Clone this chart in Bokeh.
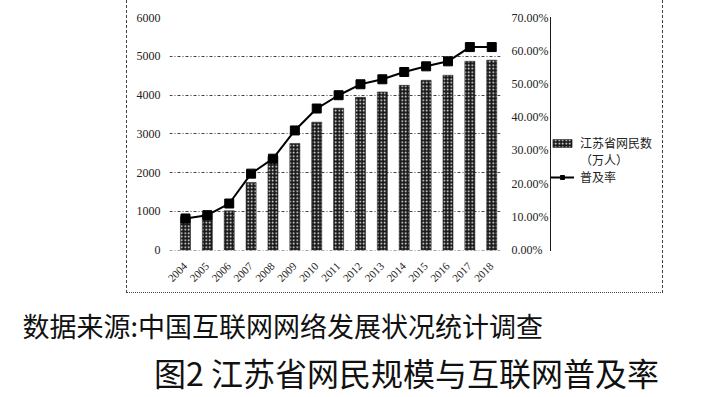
import math
from bokeh.plotting import figure
from bokeh.layouts import column, row
from bokeh.models import (Range1d, LinearAxis, FixedTicker, NumeralTickFormatter,
                          Legend, LegendItem, ColumnDataSource, Spacer)
from bokeh.core.properties import value
from bokeh.embed import file_html
from bokeh.resources import INLINE

years = ["2004", "2005", "2006", "2007", "2008", "2009", "2010", "2011",
         "2012", "2013", "2014", "2015", "2016", "2017", "2018"]
users = [858, 928, 1013, 1745, 2420, 2750, 3300, 3660, 3940, 4080, 4250, 4380, 4510, 4870, 4900]
rate = [0.095, 0.105, 0.140, 0.230, 0.275, 0.360, 0.426, 0.466, 0.499, 0.514,
        0.536, 0.553, 0.568, 0.611, 0.611]
left_ticks = [0, 1000, 2000, 3000, 4000, 5000, 6000]
right_ticks = [0.0, 0.1, 0.2, 0.3, 0.4, 0.5, 0.6, 0.7]
source_text = ["数据来源:中国互联网网络发展状况统计调查"]
title_text = ["图2 江苏省网民规模与互联网普及率"]
legend_users = "江苏省网民数"
legend_users2 = "（万人）"
legend_rate = "普及率"

src = ColumnDataSource(dict(x=list(range(len(years))), users=users, rate=rate))

bar_style = dict(fill_color="#1a1a1a", line_color="#1a1a1a", line_width=0.5,
                 hatch_pattern="dot", hatch_color="white", hatch_scale=3.5,
                 hatch_weight=1.0)
line_style = dict(line_color="black", line_width=2)
mark_style = dict(marker="square", size=9, fill_color="black", line_color="black")

# ---- chart ----
p = figure(width=424, height=293, output_backend="svg", toolbar_location=None,
           x_range=Range1d(-0.73, 14.4), y_range=Range1d(-12, 6000),
           min_border_left=42, min_border_right=50, min_border_top=17,
           min_border_bottom=43)
p.outline_line_color = None
p.extra_y_ranges = {"pct": Range1d(-0.0014, 0.7)}
p.styles = {"border-left": "1px dashed #444", "border-bottom": "1px dotted #444"}

p.vbar(x="x", top="users", width=0.46, source=src, **bar_style)
p.line(x="x", y="rate", source=src, y_range_name="pct", **line_style)
p.scatter(x="x", y="rate", source=src, y_range_name="pct", **mark_style)

p.xaxis.ticker = FixedTicker(ticks=list(range(len(years))))
p.xaxis.major_label_overrides = {i: y for i, y in enumerate(years)}
p.xaxis.major_label_orientation = math.pi / 4
p.xaxis.major_label_text_font = "Liberation Serif"
p.xaxis.major_label_text_font_size = "11px"
p.xaxis.major_label_text_color = "#222222"
p.xaxis.major_label_standoff = 8
p.xaxis.axis_line_color = None
p.xaxis.major_tick_line_color = None
p.xaxis.minor_tick_line_color = None

p.yaxis.ticker = FixedTicker(ticks=left_ticks)
p.yaxis.major_label_text_font = "Liberation Serif"
p.yaxis.major_label_text_font_size = "12px"
p.yaxis.major_label_text_color = "#222222"
p.yaxis.major_label_standoff = 3
p.yaxis.axis_line_color = None
p.yaxis.major_tick_line_color = None
p.yaxis.minor_tick_line_color = None

ra = LinearAxis(y_range_name="pct", ticker=FixedTicker(ticks=right_ticks),
                formatter=NumeralTickFormatter(format="0.00%"))
ra.major_label_text_font = "Liberation Serif"
ra.major_label_text_font_size = "12px"
ra.major_label_text_color = "#222222"
ra.major_label_standoff = 5
ra.axis_line_color = None
ra.major_tick_line_color = None
ra.minor_tick_line_color = None
p.add_layout(ra, "right")

p.xgrid.grid_line_color = None
p.ygrid.ticker = FixedTicker(ticks=left_ticks)
p.ygrid.grid_line_color = "#444444"
p.ygrid.grid_line_dash = "3 2 1 2"
p.ygrid.grid_line_width = 1

# ---- legend panel (same data, range kept off the data so only legend shows) ----
lg = figure(width=113, height=293, output_backend="svg", toolbar_location=None,
            x_range=Range1d(100, 101), y_range=Range1d(100, 101),
            min_border=0, min_border_left=0, min_border_right=0,
            min_border_top=0, min_border_bottom=0)
lg.axis.visible = False
lg.grid.visible = False
lg.outline_line_color = None
lg.styles = {"border-right": "1px dashed #444", "border-bottom": "1px dotted #444"}
lb = lg.vbar(x="x", top="users", width=0.46, source=src, **bar_style)
ld = lg.line(x="x", y="rate", source=src, line_alpha=0)
ll = lg.line(x="x", y="rate", source=src, **line_style)
lm = lg.scatter(x="x", y="rate", source=src, **mark_style)
legend = Legend(items=[LegendItem(label=legend_users, renderers=[lb]),
                       LegendItem(label=legend_users2, renderers=[ld]),
                       LegendItem(label=legend_rate, renderers=[ll, lm])],
                location=(0, 65), orientation="vertical",
                background_fill_alpha=0, border_line_color=None,
                padding=0, margin=0, glyph_width=24, glyph_height=10,
                label_height=15, spacing=0, label_standoff=6,
                label_text_font="Noto Sans CJK SC", label_text_font_size="12px",
                label_text_color="#222222")
lg.add_layout(legend)

# ---- source and caption ----
cap = figure(width=709, height=103, output_backend="svg", toolbar_location=None,
             x_range=Range1d(0, 709), y_range=Range1d(0, 103),
             min_border=0, min_border_left=0, min_border_right=0,
             min_border_top=0, min_border_bottom=0)
cap.axis.visible = False
cap.grid.visible = False
cap.outline_line_color = None
cap.text(x=[22], y=[71], text=source_text, text_font=value("Noto Sans CJK SC"),
         text_font_size="27px", text_color="#111111", text_baseline="middle")
cap.text(x=[406], y=[25], text=title_text, text_font=value("Noto Sans CJK SC"),
         text_font_size="32px", text_color="#111111", text_baseline="middle",
         text_align="center")

layout = column(row(Spacer(width=126, height=293), p, lg), cap)
open("out.html", "w").write(file_html(layout, INLINE))
